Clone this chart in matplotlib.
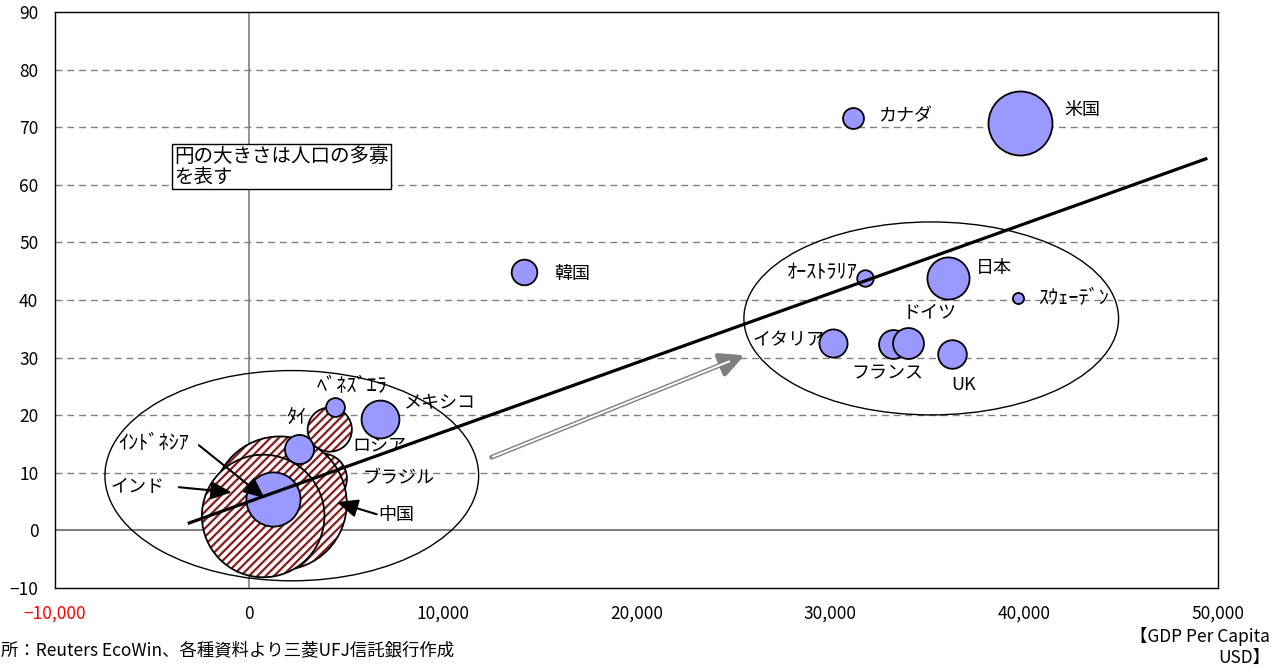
import matplotlib
matplotlib.use("Agg")
import matplotlib.pyplot as plt
from matplotlib.patches import Ellipse
import numpy as np

plt.rcParams['font.family'] = ['Noto Sans CJK JP', 'DejaVu Sans']
plt.rcParams['hatch.linewidth'] = 1.6
plt.rcParams['axes.unicode_minus'] = True

# ---------------- data ----------------
countries = ['米国', 'カナダ', '韓国', 'ｵｰｽﾄﾗﾘｱ', '日本', 'ｽｳｪｰﾃﾞﾝ', 'ドイツ', 'フランス',
             'イタリア', 'UK', 'ﾍﾞﾈｽﾞｴﾗ', 'メキシコ', 'ロシア', 'ﾀｲ', 'ｲﾝﾄﾞﾈｼｱ',
             'インド', '中国', 'ブラジル']
gdp_per_capita = [39800, 31150, 14200, 31800, 36080, 39700, 34020, 33250,
                  30150, 36290, 4430, 6750, 4175, 2580, 1270, 740, 1600, 3760]
y_values = [70.7, 71.6, 44.8, 43.8, 43.9, 40.3, 32.6, 32.3,
            32.5, 30.7, 21.5, 19.4, 17.5, 14.2, 5.4, 2.5, 4.7, 9.0]
population_mn = [300, 32, 48, 20, 130, 9, 70, 61,
                 58, 60, 26, 105, 143, 62, 215, 1100, 1310, 186]
brics = ['ブラジル', '中国', 'インド', 'ロシア']
draw_order = ['ブラジル', '中国', 'インド', 'ロシア', 'ﾀｲ', 'ｲﾝﾄﾞﾈｼｱ', 'ﾍﾞﾈｽﾞｴﾗ', 'メキシコ',
              '韓国', 'カナダ', '米国', 'ｵｰｽﾄﾗﾘｱ', '日本', 'ｽｳｪｰﾃﾞﾝ', 'イタリア',
              'フランス', 'ドイツ', 'UK']
halfwidth_labels = ['ｵｰｽﾄﾗﾘｱ', 'ｽｳｪｰﾃﾞﾝ', 'ﾍﾞﾈｽﾞｴﾗ', 'ﾀｲ', 'ｲﾝﾄﾞﾈｼｱ']

# label positions (x, y, ha)
label_pos = {
    '米国': (42990, 72.9, 'center'),
    'カナダ': (33870, 71.9, 'center'),
    '韓国': (16700, 44.6, 'center'),
    'ｵｰｽﾄﾗﾘｱ': (31440, 44.8, 'right'),
    '日本': (38450, 45.5, 'center'),
    'ｽｳｪｰﾃﾞﾝ': (40720, 40.3, 'left'),
    'ドイツ': (35100, 37.7, 'center'),
    'イタリア': (27840, 33.0, 'center'),
    'フランス': (32940, 27.3, 'center'),
    'UK': (36900, 25.3, 'center'),
    'ﾍﾞﾈｽﾞｴﾗ': (5310, 25.0, 'center'),
    'メキシコ': (9850, 22.0, 'center'),
    'ﾀｲ': (2470, 19.6, 'center'),
    'ロシア': (6750, 14.6, 'center'),
    'ブラジル': (7730, 9.0, 'center'),
    '中国': (7630, 2.6, 'center'),
    'ｲﾝﾄﾞﾈｼｱ': (-3090, 15.1, 'right'),
    'インド': (-5770, 7.6, 'center'),
}
# pointer arrows: label -> (start, tip)
pointer_arrows = {
    'ｲﾝﾄﾞﾈｼｱ': ((-2580, 14.8), (820, 5.6)),
    'インド': ((-3610, 7.5), (-880, 6.6)),
    '中国': ((6600, 2.8), (4540, 4.9)),
}
trend_x = [-3150, 49450]
trend_y = [1.2, 64.6]
move_arrow = ((12525, 12.7), (25570, 30.4))
groups = [  # (center x, center y, width, height)
    (2216, 9.5, 19280, 36.5),
    (35206, 36.8, 19330, 33.5),
]
xticks = [-10000, 0, 10000, 20000, 30000, 40000, 50000]
xtick_labels = ['\u221210,000', '0', '10,000', '20,000', '30,000', '40,000', '50,000']
yticks = [-10, 0, 10, 20, 30, 40, 50, 60, 70, 80, 90]
ytick_labels = ['\u221210', '0', '10', '20', '30', '40', '50', '60', '70', '80', '90']
note_text = '円の大きさは人口の多寡\nを表す'
source_text = '所：Reuters EcoWin、各種資料より三菱UFJ信託銀行作成'
axis_title = '【GDP Per Capita\nUSD】'

# ---------------- style ----------------
BLUE = '#9999FF'
HATCH_RED = '#8B1A1A'
GRID = '#808080'
SIZE_PER_MN = 7.08   # marker area (pt^2) per million people

fig = plt.figure(figsize=(12.77, 6.71), dpi=100)
ax = fig.add_axes([55 / 1277, 1 - 588 / 671, (1218 - 55) / 1277, (588 - 12) / 671])
ax.set_xlim(-10000, 50000)
ax.set_ylim(-10, 90)

for s in ax.spines.values():
    s.set_color('black')
    s.set_linewidth(1.0)

ax.set_xticks(xticks)
ax.set_xticklabels(xtick_labels, fontsize=12.5)
ax.set_yticks(yticks)
ax.set_yticklabels(ytick_labels, fontsize=12.5)
ax.tick_params(axis='both', length=0)
ax.tick_params(axis='x', pad=12)
ax.tick_params(axis='y', pad=12)
ax.get_xticklabels()[0].set_color('red')

for yv in yticks:
    if 0 < yv < 90:
        ax.axhline(yv, color=GRID, lw=1.0, ls=(0, (5, 3.5)), zorder=1)
ax.axhline(0, color=GRID, lw=1.5, zorder=1)
ax.axvline(0, color=GRID, lw=1.2, zorder=1)

# bubbles
idx = {c: i for i, c in enumerate(countries)}
z = 3
for c in draw_order:
    i = idx[c]
    s = population_mn[i] * SIZE_PER_MN
    if c in brics:
        ax.scatter([gdp_per_capita[i]], [y_values[i]], s=s, marker='o',
                   facecolor='white', edgecolor=HATCH_RED, hatch='////',
                   linewidths=0, zorder=z)
        ax.scatter([gdp_per_capita[i]], [y_values[i]], s=s, marker='o',
                   facecolor='none', edgecolor='black', linewidths=1.3, zorder=z + 0.5)
    else:
        ax.scatter([gdp_per_capita[i]], [y_values[i]], s=s, marker='o',
                   facecolor=BLUE, edgecolor='black', linewidths=1.3, zorder=z + 0.5)
    z += 1

# group ellipses
for cx, cy, w, h in groups:
    ax.add_patch(Ellipse((cx, cy), w, h, fill=False, ec='black', lw=1.0, zorder=2))

# trend line
ax.plot(trend_x, trend_y, color='black', lw=2.3, zorder=40, solid_capstyle='butt')

# move arrow (gray double line)
(sx, sy), (ex, ey) = move_arrow
ax.annotate('', xy=(ex, ey), xytext=(sx, sy),
            arrowprops=dict(arrowstyle='-|>,head_length=0.9,head_width=0.45',
                            color='#808080', lw=3.4, shrinkA=0, shrinkB=0,
                            mutation_scale=16), zorder=41)
fx = sx + (ex - sx) * 0.94
fy = sy + (ey - sy) * 0.94
ax.annotate('', xy=(fx, fy), xytext=(sx, sy),
            arrowprops=dict(arrowstyle='-', color='white', lw=1.4,
                            shrinkA=1, shrinkB=0), zorder=42)

# labels
for c, (lx, ly, ha) in label_pos.items():
    fs = 14.5 if c in halfwidth_labels else 13
    ax.text(lx, ly, c, fontsize=fs, ha=ha, va='center', zorder=50)

for c, ((ax0, ay0), (ax1, ay1)) in pointer_arrows.items():
    ax.annotate('', xy=(ax1, ay1), xytext=(ax0, ay0),
                arrowprops=dict(arrowstyle='-|>,head_length=0.8,head_width=0.35',
                                color='black', lw=1.5, shrinkA=0, shrinkB=0,
                                mutation_scale=16), zorder=45)

# note box
ax.text(-3850, 66.7, note_text, fontsize=14, ha='left', va='top', linespacing=0.95,
        zorder=60,
        bbox=dict(boxstyle='square,pad=0.1', fc='white', ec='black', lw=1.0))

fig.text(1 / 1277, 1 - 650 / 671, source_text, fontsize=12.5, ha='left', va='center')
fig.text(1270 / 1277, 1 - 627 / 671, axis_title, fontsize=12.5, ha='right', va='top',
         multialignment='right', linespacing=1.2)

fig.savefig('out.png', dpi=100)
